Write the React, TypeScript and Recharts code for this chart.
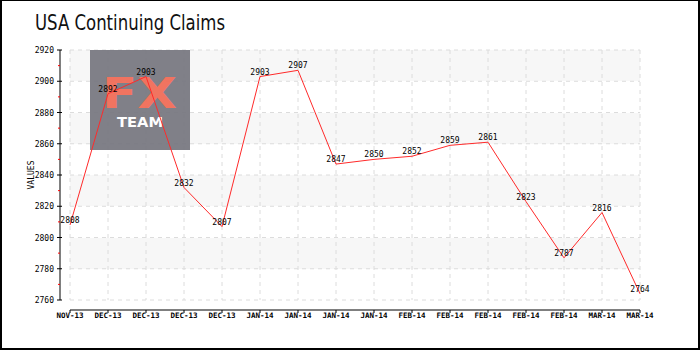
import { LineChart, Line, XAxis, YAxis, CartesianGrid, LabelList } from 'recharts'

// weekly continuing claims (thousands)
const months = [
	'NOV-13', 'DEC-13', 'DEC-13', 'DEC-13', 'DEC-13',
	'JAN-14', 'JAN-14', 'JAN-14', 'JAN-14',
	'FEB-14', 'FEB-14', 'FEB-14', 'FEB-14', 'FEB-14',
	'MAR-14', 'MAR-14',
]
const claims = [2808, 2892, 2903, 2832, 2807, 2903, 2907, 2847, 2850, 2852, 2859, 2861, 2823, 2787, 2816, 2764]
const yTicks = [2760, 2780, 2800, 2820, 2840, 2860, 2880, 2900, 2920]

const data = months.map((m, i) => ({ month: m, value: claims[i] }))
const yDomain = [yTicks[0], yTicks[yTicks.length - 1]]

const pixelFont = "'DejaVu Sans Mono', monospace"

// major tick + label, with a small red minor tick halfway to the previous one
const YTick = (props: any) => {
	const { x, y, payload, height, visibleTicksCount, index } = props
	const ax = x + 6
	const half = height && visibleTicksCount > 1 ? height / (visibleTicksCount - 1) / 2 : 0
	return (
		<g>
			<line x1={ax - 3} x2={ax + 2} y1={y} y2={y} stroke='#000' />
			{half > 0 && index > 0 && <line x1={ax - 2} x2={ax} y1={y + half} y2={y + half} stroke='#ff0000' />}
			<text x={x} y={y} dy={3} textAnchor='end' fontSize={8} fontFamily={pixelFont} fill='#000'>
				{payload.value}
			</text>
		</g>
	)
}

const AxisTitle = (props: any) => {
	const { viewBox } = props
	const cx = viewBox.x + 31
	const cy = viewBox.y + viewBox.height / 2
	return (
		<text x={cx} y={cy} transform={`rotate(-90, ${cx}, ${cy})`} textAnchor='middle' dy={3} fontSize={8} fontFamily={pixelFont} fill='#000'>
			VALUES
		</text>
	)
}

// title + watermark in the upper left of the plot
const Decor = () => (
	<g>
		<text x={35} y={30} textLength={190} lengthAdjust='spacingAndGlyphs' fontSize={21} fontFamily="'DejaVu Sans Condensed', sans-serif" fill='#111'>
			USA Continuing Claims
		</text>
		<g opacity={0.93}>
			<rect x={90} y={50} width={100} height={100} fill='#777780' />
			<text x={102} y={108} textLength={75} lengthAdjust='spacingAndGlyphs' fontSize={42} fontWeight='bold' fontFamily="'DejaVu Sans', sans-serif" fill='#f06a55'>
				FX
			</text>
			<text x={117} y={127} textLength={46} lengthAdjust='spacingAndGlyphs' fontSize={14} fontWeight='bold' fontFamily="'DejaVu Sans', sans-serif" fill='#ffffff'>
				TEAM
			</text>
		</g>
	</g>
)

export default function App() {
	return (
		<div
			style={{
				position: 'absolute',
				left: 0,
				top: 0,
				width: 700,
				height: 350,
				boxSizing: 'border-box',
				borderStyle: 'solid',
				borderColor: '#000',
				borderWidth: '1px 2px 2px 2px',
				background: '#fff',
			}}
		>
			<div style={{ position: 'absolute', left: -2, top: -1 }}>
				<LineChart width={700} height={350} data={data} margin={{ top: 50, right: 60, bottom: 10, left: 0 }}>
					<XAxis xAxisId='gap' dataKey='month' height={10} tick={false} axisLine={false} tickLine={false} />
					<XAxis
						xAxisId='main'
						dataKey='month'
						height={30}
						interval={0}
						tickSize={3}
						tickMargin={0}
						axisLine={{ stroke: '#000' }}
						tickLine={{ stroke: '#000' }}
						tick={{ fontSize: 7.5, fontFamily: pixelFont, fontWeight: 'bold', fill: '#000' }}
					/>
					<YAxis yAxisId='gap' type='number' domain={yDomain} width={10} tick={false} axisLine={false} tickLine={false} />
					<YAxis
						yAxisId='main'
						type='number'
						domain={yDomain}
						ticks={yTicks}
						interval={0}
						width={60}
						tickSize={4}
						tickMargin={2}
						tickLine={false}
						axisLine={{ stroke: '#000' }}
						tick={<YTick />}
						label={<AxisTitle />}
					/>
					<CartesianGrid
						xAxisId='main'
						yAxisId='main'
						stroke='#dcdcdc'
						strokeDasharray='4 4'
						horizontalFill={['#f7f7f7', '#ffffff']}
					/>
					<Decor />
					<Line
						xAxisId='main'
						yAxisId='main'
						dataKey='value'
						stroke='#ff2a2a'
						strokeWidth={1}
						dot={false}
						isAnimationActive={false}
					>
						<LabelList dataKey='value' position='top' offset={2} fontSize={8} fontFamily={pixelFont} fill='#000' />
					</Line>
				</LineChart>
			</div>
		</div>
	)
}
